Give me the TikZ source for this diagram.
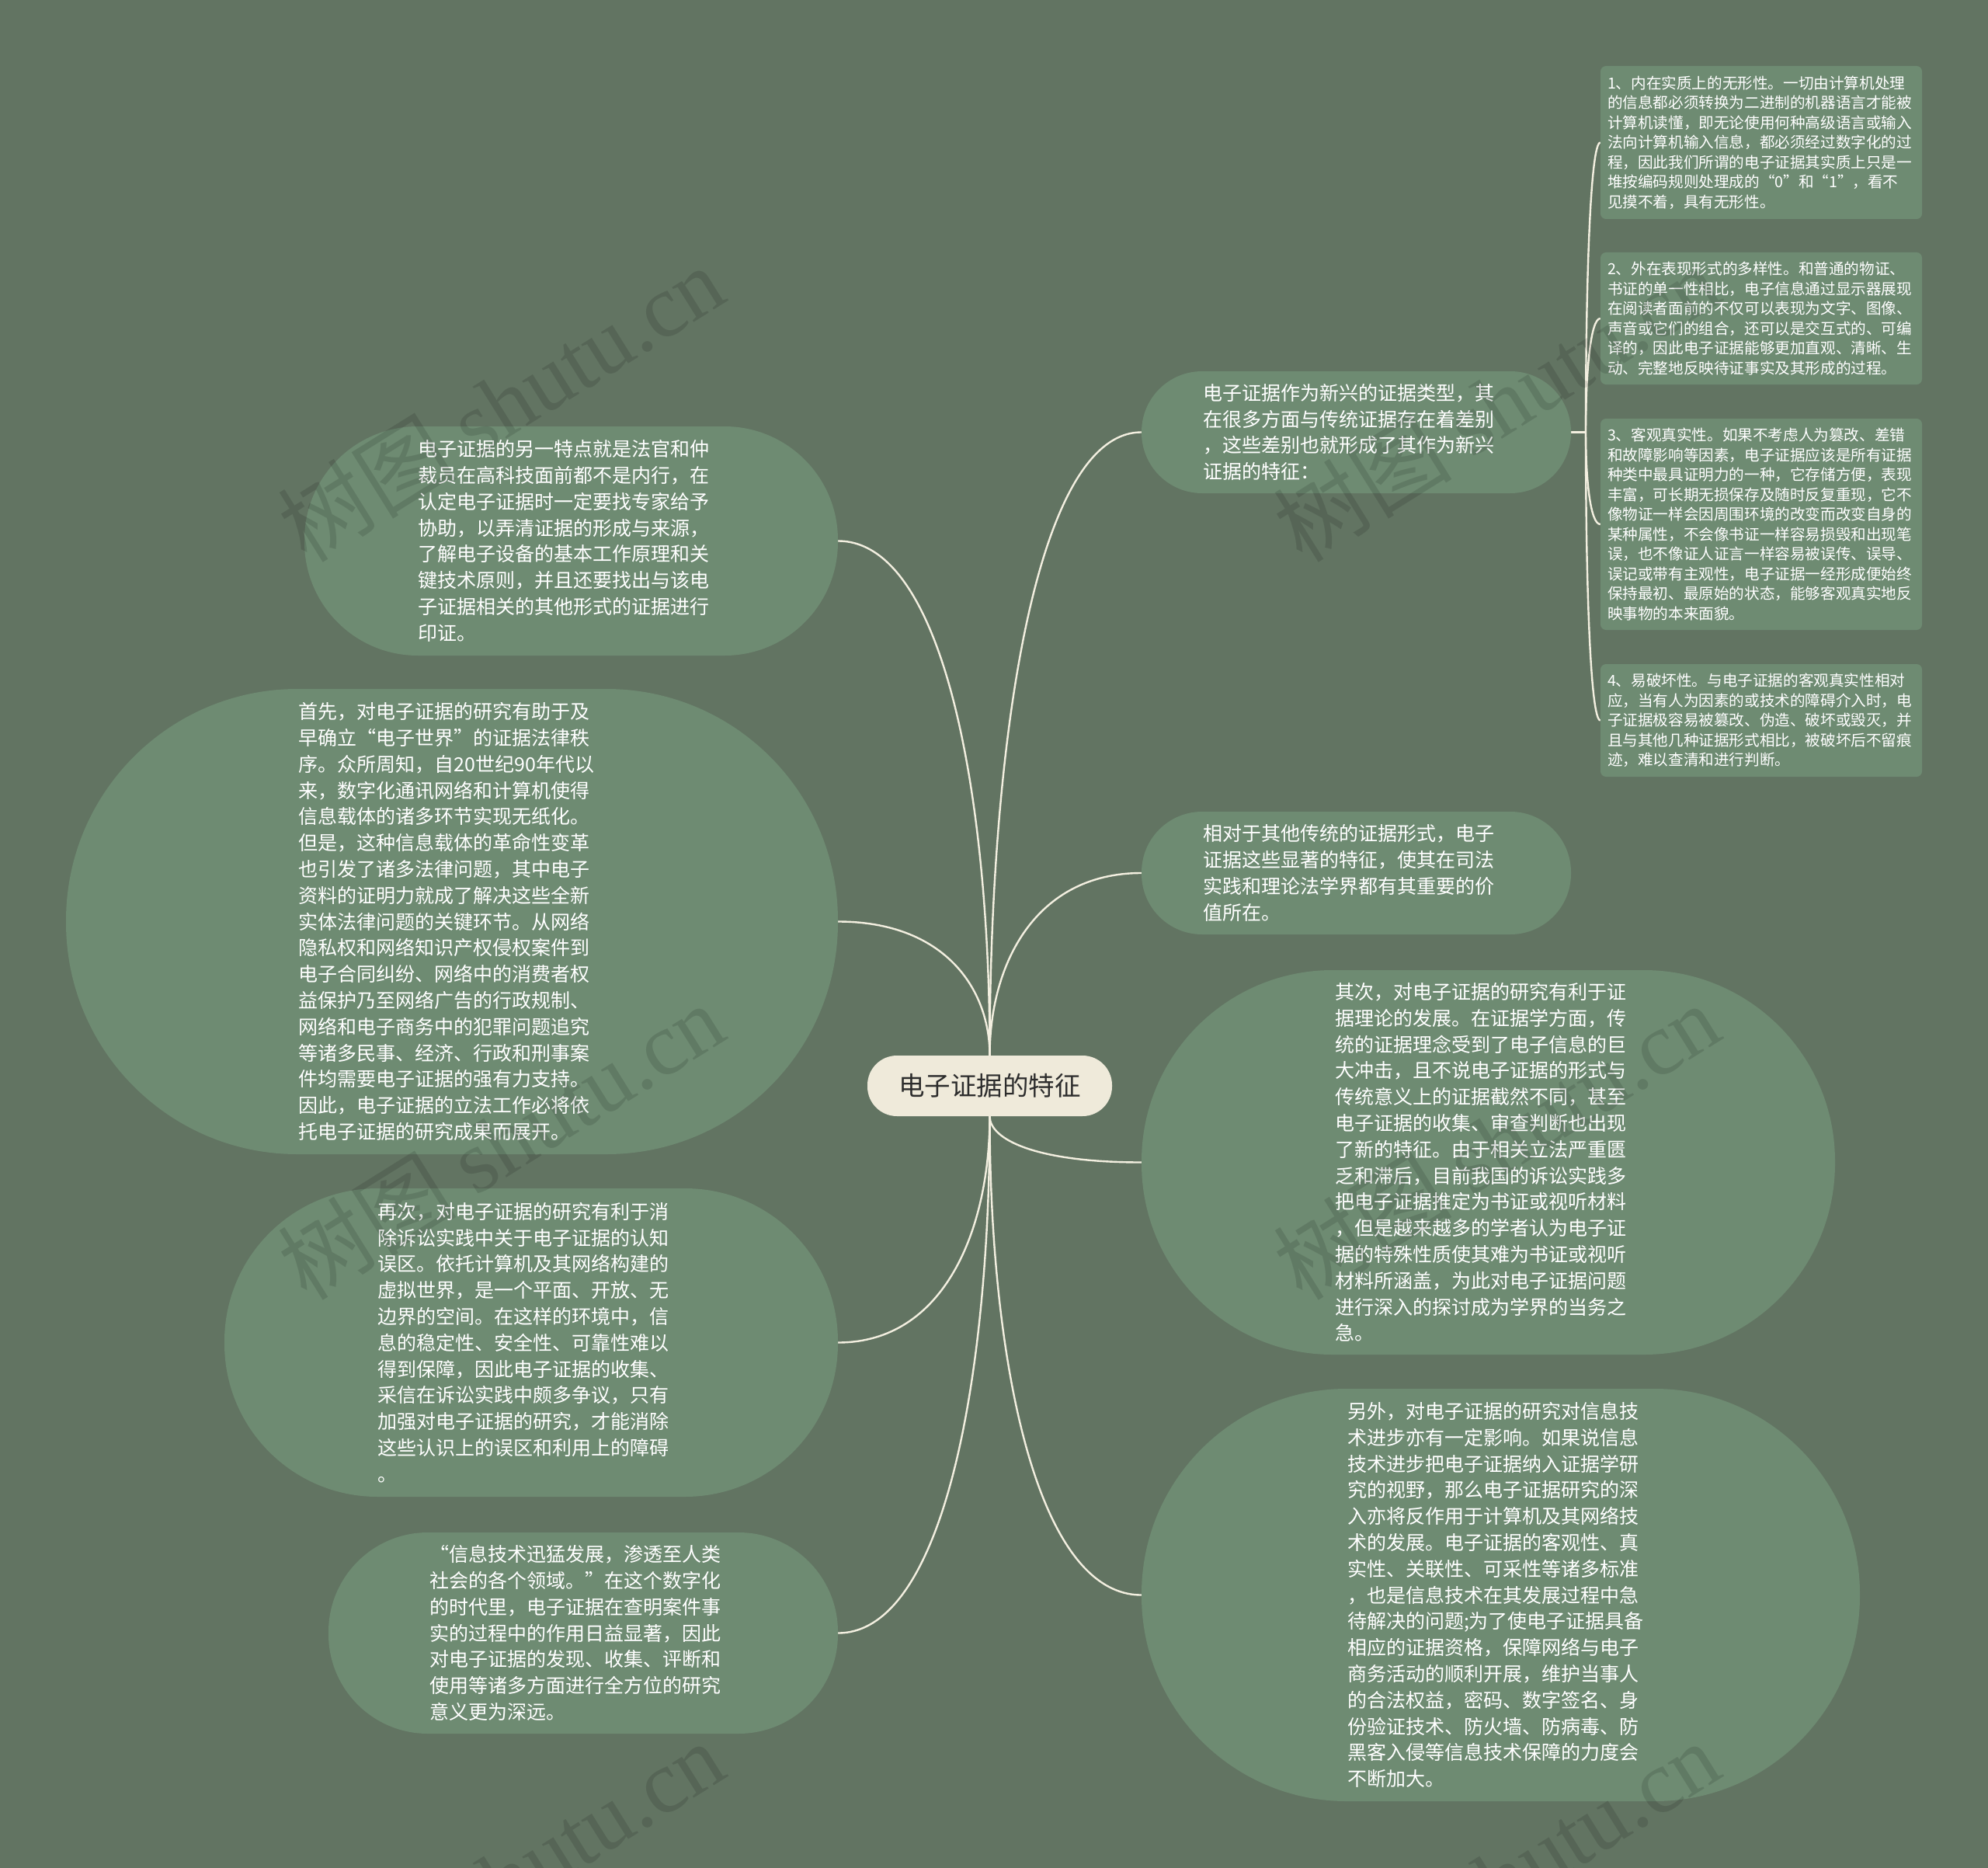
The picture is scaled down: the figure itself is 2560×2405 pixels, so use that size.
\documentclass[tikz,border=0pt]{standalone}
\usepackage{fontspec}
\setmainfont{Noto Sans CJK SC}
\newfontfamily\wmlatin{Liberation Serif}
\usetikzlibrary{calc}
\definecolor{bgc}{RGB}{98,116,98}
\definecolor{nodec}{RGB}{110,139,114}
\definecolor{linec}{RGB}{243,239,224}
\definecolor{rootc}{RGB}{239,234,218}
\definecolor{roottext}{RGB}{45,45,45}
\pgfdeclarelayer{bg}
\pgfsetlayers{bg,main}
\tikzset{
  topic/.style={shape=rectangle, fill=nodec, text=white, inner sep=0pt, align=left,
    text width=395pt, font=\fontsize{25}{33.8}\selectfont},
  detail/.style={shape=rectangle, fill=nodec, text=white, inner sep=0pt, align=left,
    text width=396pt, minimum width=414pt, rounded corners=7pt,
    font=\fontsize{19.6}{25.5}\selectfont},
  rootnode/.style={shape=rectangle, fill=rootc, text=roottext, rounded corners=38pt,
    minimum width=315pt, minimum height=78pt, inner sep=0pt,
    font=\fontsize{33.5}{40}\selectfont},
  conn/.style={draw=linec, line width=2.4pt},
  wm/.style={text=black, text opacity=0.12, rotate=32, inner sep=0pt,
    font=\fontsize{115}{120}\selectfont}
}
\newcommand\mmbranch[2]{\draw[conn] let \p1=(#1), \p2=(#2),
  \p3=($(\p1)!0.5!(\p2)$), \p4=($(\p1)!0.3!(\p2)$) in
  (\p1) .. controls (\x1,\y3) and (\x4,\y2) .. (\p2);}
\begin{document}
\begin{tikzpicture}[x=1pt,y=-1pt]
\useasboundingbox (0,0) rectangle (2560,2405);

% root
\node[rootnode] (c) at (1274.5,1398) {电子证据的特征};

% left topics
\node[topic, minimum width=687pt, minimum height=295pt, rounded corners=146pt] (L1) at (735.5,696.5) {电子证据的另一特点就是法官和仲\\裁员在高科技面前都不是内行，在\\认定电子证据时一定要找专家给予\\协助，以弄清证据的形成与来源，\\了解电子设备的基本工作原理和关\\键技术原则，并且还要找出与该电\\子证据相关的其他形式的证据进行\\印证。};

\node[topic, minimum width=994pt, minimum height=599pt, rounded corners=298pt] (L2) at (582,1186.5) {首先，对电子证据的研究有助于及\\早确立“电子世界”的证据法律秩\\序。众所周知，自20世纪90年代以\\来，数字化通讯网络和计算机使得\\信息载体的诸多环节实现无纸化。\\但是，这种信息载体的革命性变革\\也引发了诸多法律问题，其中电子\\资料的证明力就成了解决这些全新\\实体法律问题的关键环节。从网络\\隐私权和网络知识产权侵权案件到\\电子合同纠纷、网络中的消费者权\\益保护乃至网络广告的行政规制、\\网络和电子商务中的犯罪问题追究\\等诸多民事、经济、行政和刑事案\\件均需要电子证据的强有力支持。\\因此，电子证据的立法工作必将依\\托电子证据的研究成果而展开。};

\node[topic, minimum width=790pt, minimum height=397pt, rounded corners=197pt] (L3) at (684,1728.5) {再次，对电子证据的研究有利于消\\除诉讼实践中关于电子证据的认知\\误区。依托计算机及其网络构建的\\虚拟世界，是一个平面、开放、无\\边界的空间。在这样的环境中，信\\息的稳定性、安全性、可靠性难以\\得到保障，因此电子证据的收集、\\采信在诉讼实践中颇多争议，只有\\加强对电子证据的研究，才能消除\\这些认识上的误区和利用上的障碍\\。};

\node[topic, minimum width=656pt, minimum height=259pt, rounded corners=128pt] (L4) at (751,2102.5) {“信息技术迅猛发展，渗透至人类\\社会的各个领域。”在这个数字化\\的时代里，电子证据在查明案件事\\实的过程中的作用日益显著，因此\\对电子证据的发现、收集、评断和\\使用等诸多方面进行全方位的研究\\意义更为深远。};

% right topics
\node[topic, minimum width=553pt, minimum height=157pt, rounded corners=78pt] (R1) at (1746.5,556.5) {电子证据作为新兴的证据类型，其\\在很多方面与传统证据存在着差别\\，这些差别也就形成了其作为新兴\\证据的特征：};

\node[topic, minimum width=553pt, minimum height=158pt, rounded corners=78pt] (R2) at (1746.5,1124) {相对于其他传统的证据形式，电子\\证据这些显著的特征，使其在司法\\实践和理论法学界都有其重要的价\\值所在。};

\node[topic, minimum width=893pt, minimum height=495pt, rounded corners=246pt] (R3) at (1916.5,1496.5) {其次，对电子证据的研究有利于证\\据理论的发展。在证据学方面，传\\统的证据理念受到了电子信息的巨\\大冲击，且不说电子证据的形式与\\传统意义上的证据截然不同，甚至\\电子证据的收集、审查判断也出现\\了新的特征。由于相关立法严重匮\\乏和滞后，目前我国的诉讼实践多\\把电子证据推定为书证或视听材料\\，但是越来越多的学者认为电子证\\据的特殊性质使其难为书证或视听\\材料所涵盖，为此对电子证据问题\\进行深入的探讨成为学界的当务之\\急。};

\node[topic, minimum width=925pt, minimum height=531pt, rounded corners=264pt] (R4) at (1932.5,2053.5) {另外，对电子证据的研究对信息技\\术进步亦有一定影响。如果说信息\\技术进步把电子证据纳入证据学研\\究的视野，那么电子证据研究的深\\入亦将反作用于计算机及其网络技\\术的发展。电子证据的客观性、真\\实性、关联性、可采性等诸多标准\\，也是信息技术在其发展过程中急\\待解决的问题;为了使电子证据具备\\相应的证据资格，保障网络与电子\\商务活动的顺利开展，维护当事人\\的合法权益，密码、数字签名、身\\份验证技术、防火墙、防病毒、防\\黑客入侵等信息技术保障的力度会\\不断加大。};

% detail boxes
\node[detail, minimum height=197pt] (B1) at (2268,183.5) {1、内在实质上的无形性。一切由计算机处理\\的信息都必须转换为二进制的机器语言才能被\\计算机读懂，即无论使用何种高级语言或输入\\法向计算机输入信息，都必须经过数字化的过\\程，因此我们所谓的电子证据其实质上只是一\\堆按编码规则处理成的“0”和“1”，看不\\见摸不着，具有无形性。};

\node[detail, minimum height=170pt] (B2) at (2268,410) {2、外在表现形式的多样性。和普通的物证、\\书证的单一性相比，电子信息通过显示器展现\\在阅读者面前的不仅可以表现为文字、图像、\\声音或它们的组合，还可以是交互式的、可编\\译的，因此电子证据能够更加直观、清晰、生\\动、完整地反映待证事实及其形成的过程。};

\node[detail, minimum height=272pt] (B3) at (2268,675) {3、客观真实性。如果不考虑人为篡改、差错\\和故障影响等因素，电子证据应该是所有证据\\种类中最具证明力的一种，它存储方便，表现\\丰富，可长期无损保存及随时反复重现，它不\\像物证一样会因周围环境的改变而改变自身的\\某种属性，不会像书证一样容易损毁和出现笔\\误，也不像证人证言一样容易被误传、误导、\\误记或带有主观性，电子证据一经形成便始终\\保持最初、最原始的状态，能够客观真实地反\\映事物的本来面貌。};

\node[detail, minimum height=145pt] (B4) at (2268,927.5) {4、易破坏性。与电子证据的客观真实性相对\\应，当有人为因素的或技术的障碍介入时，电\\子证据极容易被篡改、伪造、破坏或毁灭，并\\且与其他几种证据形式相比，被破坏后不留痕\\迹，难以查清和进行判断。};

\coordinate (j) at (2042,556.5);

\begin{pgfonlayer}{bg}
  \fill[bgc] (0,0) rectangle (2560,2405);
  \mmbranch{c.north}{L1.east}
  \mmbranch{c.north}{L2.east}
  \mmbranch{c.south}{L3.east}
  \mmbranch{c.south}{L4.east}
  \mmbranch{c.north}{R1.west}
  \mmbranch{c.north}{R2.west}
  \mmbranch{c.south}{R3.west}
  \mmbranch{c.south}{R4.west}
  \draw[conn] (R1.east) -- (j);
  \mmbranch{j}{B1.west}
  \mmbranch{j}{B2.west}
  \mmbranch{j}{B3.west}
  \mmbranch{j}{B4.west}
\end{pgfonlayer}

% watermark
\node[wm] (wm1) at (645,519) {树图 {\wmlatin shutu.cn}};
\node[wm] (wm2) at (1927,519) {树图 {\wmlatin shutu.cn}};
\node[wm] (wm3) at (645,1469) {树图 {\wmlatin shutu.cn}};
\node[wm] (wm4) at (1927,1469) {树图 {\wmlatin shutu.cn}};
\node[wm] (wm5) at (645,2419) {树图 {\wmlatin shutu.cn}};
\node[wm] (wm6) at (1927,2419) {树图 {\wmlatin shutu.cn}};
\end{tikzpicture}
\end{document}
